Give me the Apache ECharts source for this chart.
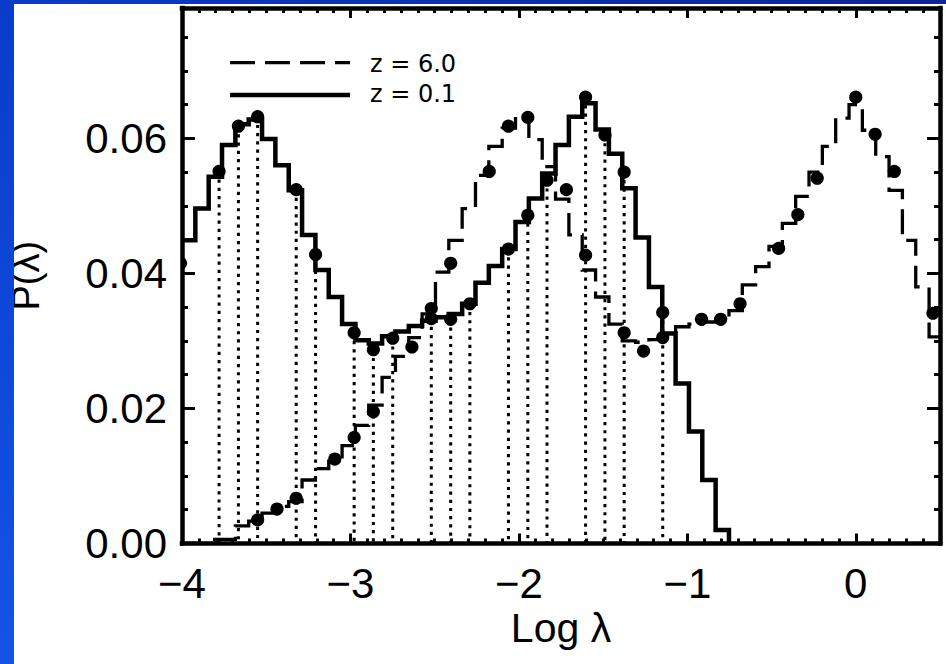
<!DOCTYPE html>
<html>
<head>
<meta charset="utf-8">
<script src="https://cdn.jsdelivr.net/npm/echarts@6/dist/echarts.min.js"></script>
<style>
html, body { margin: 0; padding: 0; background: #ffffff; overflow: hidden; width: 946px; height: 664px; }
#wrap { position: relative; width: 946px; height: 664px; background: #ffffff; overflow: hidden; }
#chart { position: absolute; left: 0; top: 0; width: 946px; height: 664px; }
#stripLeft { position: absolute; left: 0; top: 0; width: 14px; height: 664px;
  background: linear-gradient(to bottom, #0a3ccb, #1354e6); z-index: 2; }
#stripTop { position: absolute; left: 0; top: 0; width: 946px; height: 4px;
  background: linear-gradient(to right, #0a3ccb, #0d2398); z-index: 2; }
</style>
</head>
<body>
<div id="wrap">
  <div id="chart"></div>
  <div id="stripLeft"></div>
  <div id="stripTop"></div>
</div>
<script>
// ---- data ----
// histogram bins: left edge of bin i = binStart + i * binWidth
const binStart = -4.0;
const binWidth = 0.0792;

// z = 0.1 (solid histogram)
const solidBins = [0.0449, 0.0496, 0.0543, 0.0590, 0.0621, 0.0628, 0.0599, 0.0560, 0.0523, 0.0457,
  0.0405, 0.0365, 0.0325, 0.0301, 0.0296, 0.0307, 0.0314, 0.0322, 0.0330, 0.0335,
  0.0340, 0.0355, 0.0386, 0.0411, 0.0436, 0.0476, 0.0511, 0.0548, 0.0590, 0.0632,
  0.0652, 0.0613, 0.0577, 0.0526, 0.0453, 0.0380, 0.0311, 0.0237, 0.0166, 0.0094,
  0.0020];

// z = 6.0 (dashed histogram)
const dashedBins = [0, 0, 0.0006, 0.0006, 0.0026, 0.0033, 0.0045, 0.0055, 0.0062, 0.0094,
  0.0111, 0.0122, 0.0145, 0.0175, 0.0205, 0.0246, 0.0277, 0.0305, 0.0340, 0.0402,
  0.0449, 0.0496, 0.0545, 0.0588, 0.0615, 0.0632, 0.0598, 0.0558, 0.0510, 0.0457,
  0.0405, 0.0365, 0.0325, 0.0300, 0.0298, 0.0302, 0.0310, 0.0321, 0.0325, 0.0328,
  0.0332, 0.0345, 0.0383, 0.0410, 0.0440, 0.0474, 0.0514, 0.0550, 0.0588, 0.0630,
  0.0650, 0.0612, 0.0573, 0.0523, 0.0449, 0.0380, 0.0306];

// filled dots on the z = 0.1 curve (with dotted drop lines)
const solidDotX = [-4.009, -3.780, -3.665, -3.551, -3.322, -3.207, -2.978, -2.864, -2.749, -2.520,
  -2.405, -2.291, -2.062, -1.947, -1.833, -1.604, -1.489, -1.375, -1.146];
const solidDotY = [0.0415, 0.0551, 0.0618, 0.0632, 0.0524, 0.0428, 0.0312, 0.0287, 0.0304, 0.0333,
  0.0332, 0.0355, 0.0436, 0.0486, 0.0538, 0.0661, 0.0605, 0.0550, 0.0342];

// filled dots on the z = 6.0 curve
const dashedDotX = [-3.551, -3.436, -3.322, -3.093, -2.978, -2.864, -2.635, -2.520, -2.405, -2.176,
  -2.062, -1.947, -1.718, -1.604, -1.375, -1.260, -1.146, -0.916, -0.802, -0.687,
  -0.458, -0.344, -0.229, 0.000, 0.115, 0.229, 0.458];
const dashedDotY = [0.0035, 0.0051, 0.0067, 0.0125, 0.0157, 0.0195, 0.0291, 0.0348, 0.0415, 0.0551,
  0.0618, 0.0631, 0.0524, 0.0427, 0.0312, 0.0285, 0.0305, 0.0332, 0.0332, 0.0355,
  0.0437, 0.0487, 0.0541, 0.0661, 0.0606, 0.0551, 0.0341];

// tick labels
const xTickValues = [-4, -3, -2, -1, 0];
const xTickLabels = ['\u22124', '\u22123', '\u22122', '\u22121', '0'];
const yTickValues = [0, 0.02, 0.04, 0.06];
const yTickLabels = ['0.00', '0.02', '0.04', '0.06'];

const seriesNames = ['z = 6.0', 'z = 0.1'];
const xName = 'Log \u03bb';
const yName = 'P(\u03bb)';

// ---- build step data from bins ----
function stepData(bins, endValue) {
  const pts = bins.map((v, i) => [binStart + i * binWidth, v]);
  pts.push([binStart + bins.length * binWidth, endValue]);
  return pts;
}
const solidData = stepData(solidBins, 0);
const dashedData = stepData(dashedBins, dashedBins[dashedBins.length - 1]);
const solidDots = solidDotX.map((x, i) => [x, solidDotY[i]]);
const dashedDots = dashedDotX.map((x, i) => [x, dashedDotY[i]]);

function labelFrom(values, labels) {
  return function (v) {
    for (let i = 0; i < values.length; i++) {
      if (Math.abs(values[i] - v) < 1e-9) return labels[i];
    }
    return '';
  };
}

const FONT = 'Liberation Sans';
const black = '#000000';

function baseAxis(extra) {
  return Object.assign({
    type: 'value',
    axisLine: { show: true, onZero: false, lineStyle: { color: black, width: 4.5, cap: 'square' } },
    splitLine: { show: false },
    minorSplitLine: { show: false }
  }, extra);
}

const chart = echarts.init(document.getElementById('chart'), null, { renderer: 'svg', width: 946, height: 664 });

const option = {
  animation: false,
  backgroundColor: '#ffffff',
  textStyle: { fontFamily: FONT },
  graphic: [
    {
      type: 'line', z: 100, silent: true,
      shape: { x1: 230, y1: 62.7, x2: 350, y2: 62.7 },
      style: { stroke: black, lineWidth: 3.3, lineDash: [25, 10] }
    },
    {
      type: 'text', z: 100, silent: true, x: 370, y: 64,
      style: { text: seriesNames[0], font: '24px "DejaVu Sans"', fill: black, verticalAlign: 'middle', align: 'left' }
    },
    {
      type: 'line', z: 100, silent: true,
      shape: { x1: 230, y1: 95, x2: 350, y2: 95 },
      style: { stroke: black, lineWidth: 4.5 }
    },
    {
      type: 'text', z: 100, silent: true, x: 370, y: 94,
      style: { text: seriesNames[1], font: '24px "DejaVu Sans"', fill: black, verticalAlign: 'middle', align: 'left' }
    }
  ],
  grid: { left: 182, right: 6, top: 8, bottom: 120.5, containLabel: false, outerBoundsMode: 'none' },
  xAxis: [
    baseAxis({
      min: -4, max: 0.5, interval: 1, position: 'bottom',
      axisTick: { show: true, inside: true, length: 10, lineStyle: { color: black, width: 3 } },
      minorTick: { show: true, splitNumber: 10, length: 5, lineStyle: { color: black, width: 3 } },
      axisLabel: { show: true, margin: 19, fontSize: 42, fontFamily: FONT, color: black,
        showMaxLabel: false, formatter: labelFrom(xTickValues, xTickLabels) },
      name: xName, nameLocation: 'middle', nameGap: 64, nameMoveOverlap: false,
      nameTextStyle: { fontSize: 41, fontFamily: FONT, color: black }
    }),
    baseAxis({
      min: -4, max: 0.5, interval: 1, position: 'top',
      axisTick: { show: true, inside: true, length: 10, lineStyle: { color: black, width: 3 } },
      minorTick: { show: true, splitNumber: 10, length: 5, lineStyle: { color: black, width: 3 } },
      axisLabel: { show: false }
    })
  ],
  yAxis: [
    baseAxis({
      min: 0, max: 0.0793, interval: 0.02, position: 'left',
      axisTick: { show: true, inside: true, length: 13, lineStyle: { color: black, width: 3 } },
      minorTick: { show: true, splitNumber: 4, length: 6, lineStyle: { color: black, width: 3 } },
      axisLabel: { show: true, margin: 15, fontSize: 42, fontFamily: FONT, color: black,
        showMaxLabel: false, formatter: labelFrom(yTickValues, yTickLabels) },
      name: yName, nameLocation: 'middle', nameGap: 137, nameMoveOverlap: false,
      nameTextStyle: { fontSize: 38, fontFamily: FONT, color: black }
    }),
    baseAxis({
      min: 0, max: 0.0793, interval: 0.02, position: 'right',
      axisTick: { show: true, inside: true, length: 13, lineStyle: { color: black, width: 3 } },
      minorTick: { show: true, splitNumber: 4, length: 6, lineStyle: { color: black, width: 3 } },
      axisLabel: { show: false }
    })
  ],
  series: [
    {
      name: 'drop lines', type: 'custom', clip: true, z: 1, silent: true,
      encode: { x: 0, y: 1 },
      data: solidDots,
      renderItem: function (params, api) {
        const x = api.value(0), y = api.value(1);
        const p = api.coord([x, y]);
        const p0 = api.coord([x, 0]);
        return {
          type: 'line',
          shape: { x1: p[0], y1: p[1], x2: p0[0], y2: p0[1] },
          style: { stroke: black, lineWidth: 3, lineDash: [3.2, 5] }
        };
      }
    },
    {
      name: seriesNames[1], type: 'line', step: 'end', data: solidData, symbol: 'none',
      clip: true, z: 2, silent: true,
      lineStyle: { color: black, width: 4.5, join: 'miter', cap: 'butt' }
    },
    {
      name: seriesNames[0], type: 'line', step: 'end', data: dashedData, symbol: 'none',
      clip: true, z: 2, silent: true,
      lineStyle: { color: black, width: 3.3, type: [25, 10], join: 'miter', cap: 'butt' }
    },
    {
      name: 'z = 0.1 points', type: 'custom', clip: true, z: 3, silent: true,
      encode: { x: 0, y: 1 },
      data: solidDots,
      renderItem: function (params, api) {
        const p = api.coord([api.value(0), api.value(1)]);
        return { type: 'circle', shape: { cx: p[0], cy: p[1], r: 6.6 }, style: { fill: black } };
      }
    },
    {
      name: 'z = 6.0 points', type: 'custom', clip: true, z: 3, silent: true,
      encode: { x: 0, y: 1 },
      data: dashedDots,
      renderItem: function (params, api) {
        const p = api.coord([api.value(0), api.value(1)]);
        return { type: 'circle', shape: { cx: p[0], cy: p[1], r: 6.6 }, style: { fill: black } };
      }
    }
  ]
};

chart.setOption(option);
</script>
</body>
</html>
